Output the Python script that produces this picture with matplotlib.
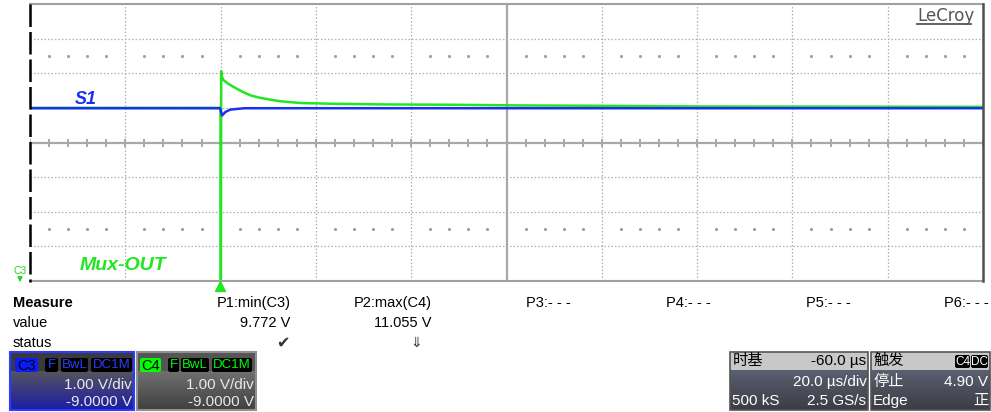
import numpy as np
import matplotlib.pyplot as plt
from matplotlib.patches import Rectangle, FancyBboxPatch

# 示波器截图 (LeCroy) 重绘
# 通道设置: 1 V/div, 偏置 -9 V -> 屏幕中心 9 V; 时基 20 us/div, 延迟 -60 us
t_left, t_right = -40.0, 160.0
v_bottom, v_top = 5.0, 13.0

# C4 (绿色, Mux-OUT) 读图得到的点: 时间(us), 电压(V)
c4_t = [-40.0, -0.1, 0.0, 0.05, 0.12, 0.21, 0.63, 1.47, 2.53, 3.58, 4.84, 6.32, 8.0, 9.9,
        12.6, 16.8, 23.2, 33.7, 48.4, 63.2, 80.0, 101.0, 130.0, 160.0]
c4_v = [10.00, 10.00, 10.00, 4.00, 11.06, 10.91, 10.80, 10.71, 10.62, 10.54, 10.45, 10.36, 10.30, 10.25,
        10.19, 10.14, 10.12, 10.10, 10.09, 10.07, 10.06, 10.04, 10.035, 10.03]

# C3 (蓝色, S1)
c3_t = [-40.0, -0.1, 0.3, 1.0, 2.0, 5.0, 160.0]
c3_v = [9.99, 9.99, 9.78, 9.88, 9.95, 9.99, 9.99]

# 测量栏
meas_names = ['P1:min(C3)', 'P2:max(C4)', 'P3:- - -', 'P4:- - -', 'P5:- - -', 'P6:- - -']
meas_values = ['9.772 V', '11.055 V', '', '', '', '']
meas_status = ['\u2714', '\u21d3', '', '', '', '']

W, H = 991, 412
fig = plt.figure(figsize=(W / 100, H / 100), dpi=100)
fig.patch.set_facecolor('white')

# 像素坐标 -> 图坐标
L, R, T, B = 30, 983, 4, 281
ax = fig.add_axes([L / W, 1 - B / H, (R - L) / W, (B - T) / H])
ax.set_xlim(t_left, t_right)
ax.set_ylim(v_bottom, v_top)
ax.axis('off')

xdiv = (t_right - t_left) / 10
ydiv = (v_top - v_bottom) / 8
tc = t_left + 5 * xdiv
vc = v_bottom + 4 * ydiv
grid_c = '#a8a8a8'
for i in range(1, 10):
    if i != 5:
        ax.axvline(t_left + i * xdiv, color='#b0b0b0', lw=0.9, ls=(0, (1.2, 1.6)), zorder=1)
for j in range(1, 8):
    if j != 4:
        ax.axhline(v_bottom + j * ydiv, color='#b0b0b0', lw=0.9, ls=(0, (1.2, 1.6)), zorder=1)
ax.axvline(tc, color=grid_c, lw=1.6, zorder=1)
ax.axhline(vc, color=grid_c, lw=1.6, zorder=1)
# 中心线刻度 (只在水平中心线上)
tx = np.arange(t_left, t_right + 0.01, xdiv / 5)
ax.plot(tx, np.full_like(tx, vc), ls='none', marker='|', ms=6, mew=1.4, color=grid_c, zorder=1)
# 细点行
for vv in [vc + 2.5 * ydiv, vc - 2.5 * ydiv]:
    dx = [x for x in tx if abs((x - t_left) / xdiv - round((x - t_left) / xdiv)) > 1e-6]
    ax.plot(dx, [vv] * len(dx), ls='none', marker='s', ms=1.1, color='#a0a0a0', zorder=1)

# 波形
ax.plot(c4_t, c4_v, color='#22e622', lw=1.8, zorder=3)
ax.plot(c3_t, c3_v, color='#1a30f0', lw=1.8, zorder=4)

# 覆盖层: 像素坐标
ov = fig.add_axes([0, 0, 1, 1])
ov.set_xlim(0, W)
ov.set_ylim(H, 0)
ov.axis('off')
ov.patch.set_alpha(0)

# 边框
ov.plot([L, R], [T, T], color='#a0a0a0', lw=1.5)
ov.plot([L, R], [B, B], color='#a0a0a0', lw=1.5)
ov.plot([L, L], [T, B + 1], color='black', lw=1.8, ls=(0, (9, 2)))
ov.plot([R, R], [T, B], color='#505050', lw=1.8)

fam = ['Liberation Sans', 'Noto Sans CJK SC', 'DejaVu Sans']
ov.text(917, 21, 'LeCroy', fontsize=12, color='#555555', family=['DejaVu Sans'], va='baseline', ha='left')
ov.plot([917, 971], [24, 24], color='#555555', lw=1.3)

ov.text(75, 99, 'S1', fontsize=13, color='#1a30f0', family=fam, fontweight='bold', style='italic', va='center')
ov.text(80, 265, 'Mux-OUT', fontsize=14, color='#22e622', family=fam, fontweight='bold', style='italic', va='center')
ov.text(20, 271, 'C3', fontsize=7.5, color='#22d622', family=fam, va='center', ha='center')
ov.annotate('', xy=(20, 285), xytext=(20, 276), arrowprops=dict(arrowstyle='-|>', color='#22d622', lw=1, mutation_scale=7))
ov.plot([220], [286], marker='^', ms=7, color='#22e622', ls='none')

# 测量栏
fs_m = 10.5
ov.text(13, 303, 'Measure', fontsize=fs_m, fontweight='bold', family=fam, va='center')
ov.text(13, 323, 'value', fontsize=fs_m, family=fam, va='center')
ov.text(13, 343, 'status', fontsize=fs_m, family=fam, va='center')
col_right = [291, 432, 571, 711, 851, 989]
for k in range(len(meas_names)):
    xr = col_right[k]
    ov.text(xr, 303, meas_names[k], fontsize=fs_m, family=fam, va='center', ha='right')
    ov.text(xr - 1, 323, meas_values[k], fontsize=fs_m, family=fam, va='center', ha='right')
    if meas_status[k]:
        ov.text(xr - 1 - 9 * k, 343, meas_status[k], fontsize=11.5 - 1.5 * k, family=['DejaVu Sans'],
                color='#333333', va='center', ha='right')


def gradient(x0, x1, y0, y1, c_top, c_bot):
    g = np.linspace(0, 1, 50)[:, None]
    ct = np.array(plt.matplotlib.colors.to_rgb(c_top))
    cb = np.array(plt.matplotlib.colors.to_rgb(c_bot))
    img = ct[None, None, :] * (1 - g[:, :, None]) + cb[None, None, :] * g[:, :, None]
    ov.imshow(img, extent=[x0, x1, y1, y0], aspect='auto', zorder=2)


def tag(x0, x1, y0, y1, text, fc, tc_, fs=9.5):
    ov.add_patch(FancyBboxPatch((x0, y0), x1 - x0, y1 - y0, boxstyle='round,pad=0,rounding_size=2',
                                fc=fc, ec='none', zorder=4))
    ov.text((x0 + x1) / 2, (y0 + y1) / 2 + 0.5, text, fontsize=fs, color=tc_, family=fam,
            va='center', ha='center', zorder=5)


fs_b = 11
# C3 通道框
gradient(10, 134, 371, 410, '#55555c', '#1c1ca8')
ov.add_patch(Rectangle((10, 352), 124, 19, fc='#3a3a3e', ec='none', zorder=2))
ov.add_patch(Rectangle((10, 352), 124, 58, fc='none', ec='#2a3cff', lw=1.5, zorder=3))
tag(15, 38, 358, 372, 'C3', '#0a1cff', 'black', 10.5)
tag(45, 58, 358, 372, 'F', 'black', '#2a3cff')
tag(61, 88, 358, 372, 'BwL', 'black', '#2a3cff')
tag(91, 132, 358, 372, 'DC1M', 'black', '#2a3cff')
ov.text(132, 385, '1.00 V/div', fontsize=fs_b, color='#e8e8e8', family=fam, va='center', ha='right', zorder=5)
ov.text(132, 402, '-9.0000 V', fontsize=fs_b, color='#e8e8e8', family=fam, va='center', ha='right', zorder=5)

# C4 通道框
gradient(137, 256, 371, 410, '#707070', '#404040')
ov.add_patch(Rectangle((137, 352), 119, 19, fc='#555555', ec='none', zorder=2))
ov.add_patch(Rectangle((137, 352), 119, 58, fc='none', ec='#909090', lw=1.5, zorder=3))
tag(140, 161, 358, 372, 'C4', '#00ff00', 'black', 10.5)
tag(168, 179, 358, 372, 'F', 'black', '#00ff00')
tag(181, 209, 358, 372, 'BwL', 'black', '#00ff00')
tag(212, 252, 358, 372, 'DC1M', 'black', '#00ff00')
ov.text(254, 385, '1.00 V/div', fontsize=fs_b, color='#e8e8e8', family=fam, va='center', ha='right', zorder=5)
ov.text(254, 402, '-9.0000 V', fontsize=fs_b, color='#e8e8e8', family=fam, va='center', ha='right', zorder=5)

# 时基框
gradient(730, 868, 370, 410, '#5a6070', '#3c3c44')
ov.add_patch(Rectangle((730, 352), 138, 18, fc='#c8c8c8', ec='none', zorder=2))
ov.add_patch(Rectangle((730, 352), 138, 58, fc='none', ec='#555555', lw=1.2, zorder=3))
ov.text(733, 361, '时基', fontsize=11, color='black', family=fam, va='center', ha='left', zorder=5)
ov.text(866, 361, '-60.0 µs', fontsize=fs_b, color='black', family=fam, va='center', ha='right', zorder=5)
ov.text(867, 382, '20.0 µs/div', fontsize=fs_b, color='white', family=fam, va='center', ha='right', zorder=5)
ov.text(732, 401, '500 kS', fontsize=fs_b, color='white', family=fam, va='center', ha='left', zorder=5)
ov.text(866, 401, '2.5 GS/s', fontsize=fs_b, color='white', family=fam, va='center', ha='right', zorder=5)

# 触发框
gradient(871, 990, 370, 410, '#5a6070', '#3c3c44')
ov.add_patch(Rectangle((871, 352), 119, 18, fc='#c8c8c8', ec='none', zorder=2))
ov.add_patch(Rectangle((871, 352), 119, 58, fc='none', ec='#555555', lw=1.2, zorder=3))
ov.text(873, 361, '触发', fontsize=11, color='black', family=fam, va='center', ha='left', zorder=5)
tag(955, 970, 355, 368, 'C4', 'black', 'white', 8.5)
tag(971, 988, 355, 368, 'DC', 'black', 'white', 8.5)
ov.text(873, 382, '停止', fontsize=11, color='white', family=fam, va='center', ha='left', zorder=5)
ov.text(988, 382, '4.90 V', fontsize=fs_b, color='white', family=fam, va='center', ha='right', zorder=5)
ov.text(873, 401, 'Edge', fontsize=fs_b, color='white', family=fam, va='center', ha='left', zorder=5)
ov.text(988, 401, '正', fontsize=11, color='white', family=fam, va='center', ha='right', zorder=5)

fig.savefig('out.png', dpi=100)
